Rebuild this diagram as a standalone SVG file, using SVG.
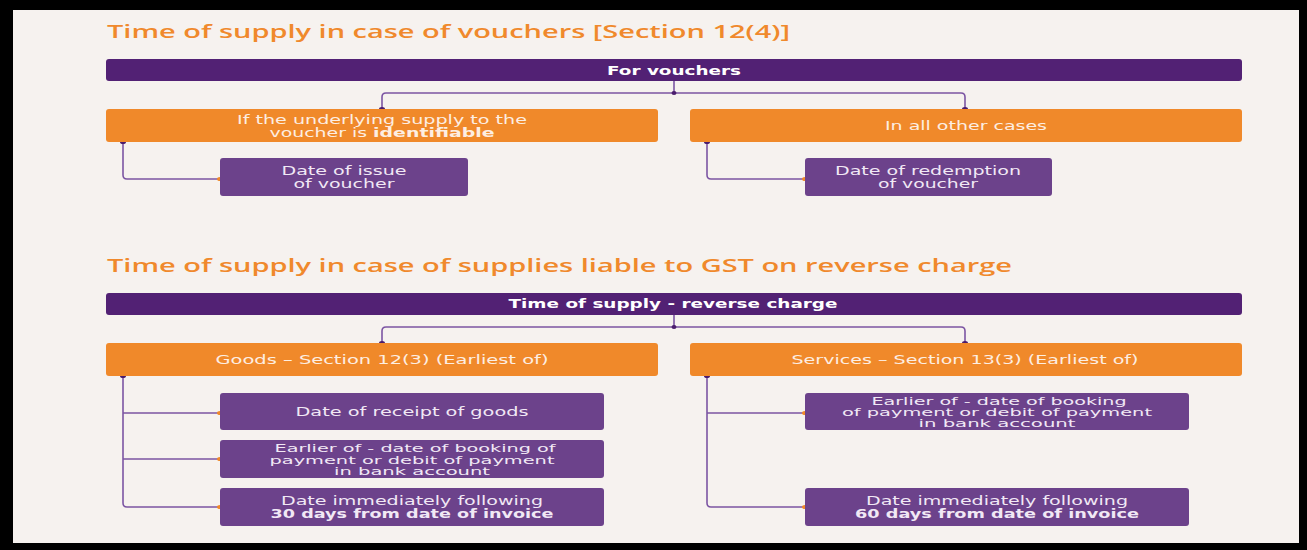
<svg xmlns="http://www.w3.org/2000/svg" width="1307" height="550" viewBox="0 0 1307 550">
<defs>
<style>
.title{font-family:"Open Sans","DejaVu Sans",sans-serif;font-weight:600;font-size:18px;fill:#f0892c}
.bar{fill:#522174}
.bartxt{font-family:"DejaVu Sans","Liberation Sans",sans-serif;font-weight:bold;font-size:12.5px;fill:#ffffff}
.org{fill:#f0892a}
.orgtxt{font-family:"DejaVu Sans","Liberation Sans",sans-serif;font-size:12.5px;fill:#fdeee2}
.pur{fill:#6c428b}
.purtxt{font-family:"DejaVu Sans","Liberation Sans",sans-serif;font-size:12.5px;fill:#f1e8f5}
.sm{font-size:10px}
.b{font-weight:bold}
.ln{fill:none;stroke:#7c55a3;stroke-width:1.6}
.dd{fill:#4b1d6d}
.od{fill:#f0892a}
</style>
</defs>
<rect x="0" y="0" width="1307" height="550" fill="#000"/>
<rect x="13" y="10" width="1286" height="533" fill="#f6f2ef"/>

<text class="title" x="107" y="38" textLength="683" lengthAdjust="spacingAndGlyphs">Time of supply in case of vouchers [Section 12(4)]</text>
<text class="title" x="107" y="272" textLength="905" lengthAdjust="spacingAndGlyphs">Time of supply in case of supplies liable to GST on reverse charge</text>

<g id="connectors">
<path class="ln" d="M674 81 V93 M674 93 H386 Q382 93 382 97 V109 M674 93 H961 Q965 93 965 97 V109"/>
<path class="ln" d="M123 142 V175 Q123 179 127 179 H220"/>
<path class="ln" d="M707 142 V175 Q707 179 711 179 H805"/>
<path class="ln" d="M674 315 V327 M674 327 H386 Q382 327 382 331 V343"/>
<path class="ln" d="M674 327 H961 Q965 327 965 331 V343"/>
<path class="ln" d="M123 376 V503 Q123 507 127 507 H220 M123 413 H220 M123 459 H220"/>
<path class="ln" d="M707 376 V503 Q707 507 711 507 H805 M707 413 H805"/>
<ellipse class="dd" cx="674" cy="93" rx="2.5" ry="2"/>
<ellipse class="dd" cx="382" cy="109" rx="3" ry="2"/>
<ellipse class="dd" cx="965" cy="109" rx="3" ry="2"/>
<ellipse class="dd" cx="123" cy="142" rx="3" ry="2"/>
<ellipse class="dd" cx="707" cy="142" rx="3" ry="2"/>
<ellipse class="od" cx="220" cy="179" rx="3" ry="2"/>
<ellipse class="od" cx="805" cy="179" rx="3" ry="2"/>
<ellipse class="dd" cx="674" cy="327" rx="2.5" ry="2"/>
<ellipse class="dd" cx="382" cy="343" rx="3" ry="2"/>
<ellipse class="dd" cx="965" cy="343" rx="3" ry="2"/>
<ellipse class="dd" cx="123" cy="376" rx="3" ry="2"/>
<ellipse class="dd" cx="707" cy="376" rx="3" ry="2"/>
<ellipse class="od" cx="220" cy="413" rx="3" ry="2"/>
<ellipse class="od" cx="220" cy="459" rx="3" ry="2"/>
<ellipse class="od" cx="220" cy="507" rx="3" ry="2"/>
<ellipse class="od" cx="805" cy="413" rx="3" ry="2"/>
<ellipse class="od" cx="805" cy="507" rx="3" ry="2"/>
</g>

<g id="for-vouchers">
<rect class="bar" x="106" y="59" width="1136" height="22" rx="3"/>
<text class="bartxt" x="674" y="75" text-anchor="middle" textLength="134" lengthAdjust="spacingAndGlyphs">For vouchers</text>
</g>
<g id="identifiable">
<rect class="org" x="106" y="109" width="552" height="33" rx="3"/>
<text class="orgtxt" x="382" y="124" text-anchor="middle" textLength="290" lengthAdjust="spacingAndGlyphs">If the underlying supply to the</text>
<text class="orgtxt" x="382" y="137" text-anchor="middle" textLength="225" lengthAdjust="spacingAndGlyphs">voucher is <tspan class="b">identifiable</tspan></text>
</g>
<g id="other-cases">
<rect class="org" x="690" y="109" width="552" height="33" rx="3"/>
<text class="orgtxt" x="966" y="130" text-anchor="middle" textLength="162" lengthAdjust="spacingAndGlyphs">In all other cases</text>
</g>
<g id="date-issue">
<rect class="pur" x="220" y="158" width="248" height="38" rx="3"/>
<text class="purtxt" x="344" y="175" text-anchor="middle" textLength="125" lengthAdjust="spacingAndGlyphs">Date of issue</text>
<text class="purtxt" x="344" y="188" text-anchor="middle" textLength="101" lengthAdjust="spacingAndGlyphs">of voucher</text>
</g>
<g id="date-redemption">
<rect class="pur" x="805" y="158" width="247" height="38" rx="3"/>
<text class="purtxt" x="928" y="175" text-anchor="middle" textLength="186" lengthAdjust="spacingAndGlyphs">Date of redemption</text>
<text class="purtxt" x="928" y="188" text-anchor="middle" textLength="100" lengthAdjust="spacingAndGlyphs">of voucher</text>
</g>

<g id="reverse-charge">
<rect class="bar" x="106" y="293" width="1136" height="22" rx="3"/>
<text class="bartxt" x="673" y="308" text-anchor="middle" textLength="329" lengthAdjust="spacingAndGlyphs">Time of supply - reverse charge</text>
</g>
<g id="goods">
<rect class="org" x="106" y="343" width="552" height="33" rx="3"/>
<text class="orgtxt" x="382" y="364" text-anchor="middle" textLength="333" lengthAdjust="spacingAndGlyphs">Goods – Section 12(3) (Earliest of)</text>
</g>
<g id="services">
<rect class="org" x="690" y="343" width="552" height="33" rx="3"/>
<text class="orgtxt" x="965" y="364" text-anchor="middle" textLength="347" lengthAdjust="spacingAndGlyphs">Services – Section 13(3) (Earliest of)</text>
</g>
<g id="g-receipt">
<rect class="pur" x="220" y="393" width="384" height="37" rx="3"/>
<text class="purtxt" x="412" y="416" text-anchor="middle" textLength="233" lengthAdjust="spacingAndGlyphs">Date of receipt of goods</text>
</g>
<g id="g-payment">
<rect class="pur" x="220" y="440" width="384" height="38" rx="3"/>
<text class="purtxt sm" x="415" y="452" text-anchor="middle" textLength="281" lengthAdjust="spacingAndGlyphs">Earlier of - date of booking of</text>
<text class="purtxt sm" x="412" y="463.5" text-anchor="middle" textLength="285" lengthAdjust="spacingAndGlyphs">payment or debit of payment</text>
<text class="purtxt sm" x="412" y="474.5" text-anchor="middle" textLength="156" lengthAdjust="spacingAndGlyphs">in bank account</text>
</g>
<g id="g-30days">
<rect class="pur" x="220" y="488" width="384" height="38" rx="3"/>
<text class="purtxt" x="412" y="505" text-anchor="middle" textLength="262" lengthAdjust="spacingAndGlyphs">Date immediately following</text>
<text class="purtxt b" x="412" y="518" text-anchor="middle" textLength="283" lengthAdjust="spacingAndGlyphs">30 days from date of invoice</text>
</g>
<g id="s-payment">
<rect class="pur" x="805" y="393" width="384" height="37" rx="3"/>
<text class="purtxt sm" x="999" y="404.5" text-anchor="middle" textLength="255" lengthAdjust="spacingAndGlyphs">Earlier of - date of booking</text>
<text class="purtxt sm" x="997" y="416" text-anchor="middle" textLength="310" lengthAdjust="spacingAndGlyphs">of payment or debit of payment</text>
<text class="purtxt sm" x="997" y="427" text-anchor="middle" textLength="157" lengthAdjust="spacingAndGlyphs">in bank account</text>
</g>
<g id="s-60days">
<rect class="pur" x="805" y="488" width="384" height="38" rx="3"/>
<text class="purtxt" x="997" y="505" text-anchor="middle" textLength="262" lengthAdjust="spacingAndGlyphs">Date immediately following</text>
<text class="purtxt b" x="997" y="518" text-anchor="middle" textLength="284" lengthAdjust="spacingAndGlyphs">60 days from date of invoice</text>
</g>
</svg>
